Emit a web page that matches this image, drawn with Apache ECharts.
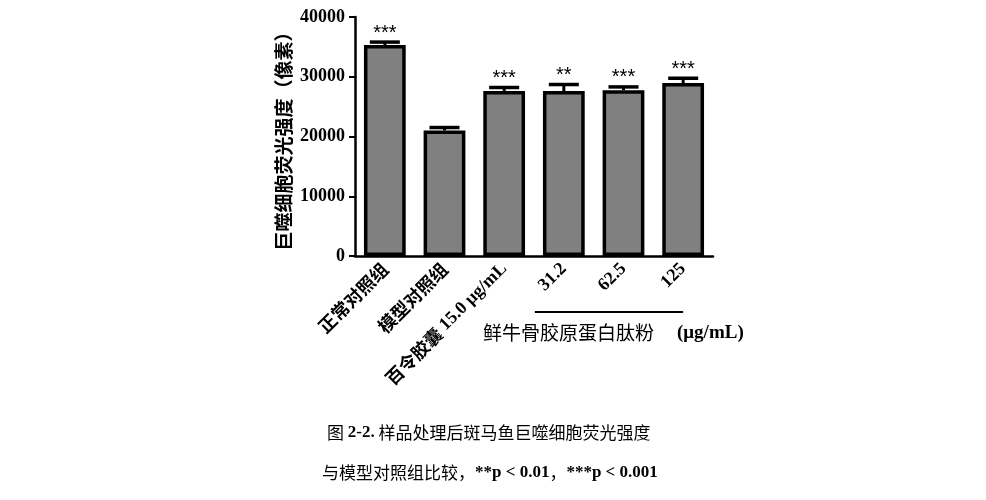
<!DOCTYPE html>
<html><head><meta charset="utf-8">
<script src="https://cdn.jsdelivr.net/npm/echarts@6/dist/echarts.min.js"></script>
<style>html,body{margin:0;padding:0;background:#fff}#c{width:986px;height:500px}</style>
</head><body><div id="c"></div>
<script>
const categories = ['正常对照组', '模型对照组', '百令胶囊 15.0 μg/mL', '31.2', '62.5', '125'];
const values = [35300, 21000, 27600, 27600, 27750, 28950];
const errors = [500, 500, 600, 1100, 550, 800];
const stars = ['***', '', '***', '**', '***', '***'];
const yTicks = [0, 10000, 20000, 30000, 40000];

const SANS = '"Noto Sans CJK SC", sans-serif';
const SERIF = '"Liberation Serif", "DejaVu Serif", serif';

const chart = echarts.init(document.getElementById('c'));
const option = {
  backgroundColor: '#fff',
  animation: false,
  grid: { left: 355, right: 273, top: 17, bottom: 244 },
  xAxis: {
    type: 'category',
    data: categories,
    axisLine: { lineStyle: { color: '#000', width: 2.5 } },
    axisTick: { alignWithLabel: true, length: 7, lineStyle: { color: '#000', width: 2 } },
    axisLabel: {
      rotate: 45, margin: 10, interval: 0, color: '#000',
      formatter: function (v) {
        if (v.indexOf('百令胶囊') === 0) return '{zh|百令胶囊}{en| 15.0 μg/mL}';
        if (/^[0-9.]+$/.test(v)) return '{en|' + v + '}';
        return '{zh|' + v + '}';
      },
      rich: {
        zh: { fontFamily: SANS, fontWeight: 'bold', fontSize: 18, color: '#000' },
        en: { fontFamily: SERIF, fontWeight: 'bold', fontSize: 18, color: '#000' }
      }
    }
  },
  yAxis: {
    type: 'value', min: 0, max: 40000, interval: 10000,
    name: '巨噬细胞荧光强度（像素）', nameLocation: 'middle', nameRotate: 90, nameGap: 62,
    nameTextStyle: { fontFamily: SANS, fontSize: 19, fontWeight: 'bold', color: '#000' },
    axisLine: { show: true, lineStyle: { color: '#000', width: 2.5 } },
    axisTick: { show: true, length: 6, lineStyle: { color: '#000', width: 2 } },
    splitLine: { show: false },
    axisLabel: {
      margin: 10, color: '#000', fontFamily: SERIF, fontWeight: 'bold', fontSize: 18,
      formatter: function (v) { return yTicks.indexOf(v) >= 0 ? String(v) : ''; }
    }
  },
  series: [
    {
      type: 'bar', data: values, barCategoryGap: '30%',
      itemStyle: { color: '#808080', borderColor: '#000', borderWidth: 3.5 },
      z: 2
    },
    {
      type: 'custom', z: 3,
      data: values.map((v, i) => [i, v, errors[i]]),
      renderItem: function (params, api) {
        const i = api.value(0), v = api.value(1), e = api.value(2);
        const base = api.coord([i, v]);
        const top = api.coord([i, v + e]);
        const half = 15;
        const children = [
          { type: 'line', shape: { x1: base[0], y1: base[1], x2: top[0], y2: top[1] }, style: { stroke: '#000', lineWidth: 3 } },
          { type: 'line', shape: { x1: top[0] - half, y1: top[1], x2: top[0] + half, y2: top[1] }, style: { stroke: '#000', lineWidth: 3.5 } }
        ];
        const s = stars[params.dataIndex];
        if (s) {
          children.push({ type: 'text', style: { text: s, x: top[0], y: top[1] + 1, align: 'center', verticalAlign: 'bottom', fontFamily: '"Liberation Sans", sans-serif', fontSize: 20, fill: '#000' } });
        }
        return { type: 'group', children: children };
      }
    }
  ]
};
chart.setOption(option);

const p4 = chart.convertToPixel({ xAxisIndex: 0, yAxisIndex: 0 }, [3, 0]);
const p6 = chart.convertToPixel({ xAxisIndex: 0, yAxisIndex: 0 }, [5, 0]);
chart.setOption({
  graphic: [
    { type: 'line', shape: { x1: p4[0] - 29, y1: 312, x2: p6[0], y2: 312 }, style: { stroke: '#000', lineWidth: 2 } },
    { type: 'text', style: { text: '鲜牛骨胶原蛋白肽粉', x: 483, y: 333, verticalAlign: 'middle', fontFamily: SANS, fontSize: 19, fill: '#000' } },
    { type: 'text', style: { text: '(μg/mL)', x: 677, y: 333, verticalAlign: 'middle', fontFamily: SERIF, fontWeight: 'bold', fontSize: 19, fill: '#000' } },
    { type: 'text', style: { text: '{zh|图 }{en|2-2.}{zh| 样品处理后斑马鱼巨噬细胞荧光强度}', x: 327, y: 433, verticalAlign: 'middle',
      rich: { zh: { fontFamily: SANS, fontSize: 17, fill: '#000' }, en: { fontFamily: SERIF, fontWeight: 'bold', fontSize: 17, fill: '#000' } } } },
    { type: 'text', style: { text: '{zh|与模型对照组比较，}{en|**p < 0.01}{zh|，}{en|***p < 0.001}', x: 322, y: 473, verticalAlign: 'middle',
      rich: { zh: { fontFamily: SANS, fontSize: 17, fill: '#000' }, en: { fontFamily: SERIF, fontWeight: 'bold', fontSize: 17, fill: '#000' } } } }
  ]
});
</script></body></html>
